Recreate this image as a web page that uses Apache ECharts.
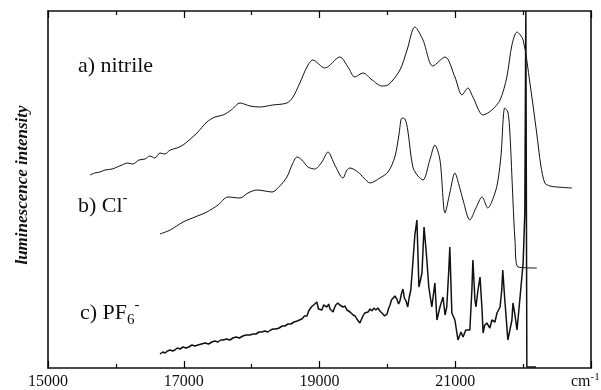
<!DOCTYPE html>
<html>
<head>
<meta charset="utf-8">
<script src="https://cdn.jsdelivr.net/npm/echarts@6/dist/echarts.min.js"></script>
<style>
  html, body { margin: 0; padding: 0; background: #fff; }
  #chart { width: 601px; height: 390px; }
</style>
</head>
<body>
<div id="chart"></div>
<script>
// wavenumber (cm-1) and relative intensity
const nitrileX = [15620, 15690, 15765, 15840, 15945, 16020, 16090, 16170, 16250, 16340, 16430, 16500, 16575, 16650, 16720, 16800, 16900, 16990, 17080, 17195, 17340, 17460, 17580, 17700, 17830, 17975, 18120, 18310, 18520, 18610, 18710, 18815, 18900, 19080, 19300, 19420, 19520, 19640, 19775, 19920, 20010, 20185, 20290, 20405, 20525, 20670, 20850, 20995, 21100, 21185, 21260, 21410, 21540, 21660, 21760, 21835, 21910, 22000, 22100, 22200, 22260, 22320, 22395, 22500, 22720]
const nitrileY = [193, 195, 196, 198, 199, 201, 203, 205, 204, 208, 209, 212, 210, 215, 214, 218, 220, 223, 228, 235, 246, 251, 253, 258, 265, 262, 261, 263, 265, 271, 285, 301, 308, 300, 311, 301, 291, 295, 288, 282, 283, 298, 318, 341, 328, 302, 311, 291, 273, 280, 271, 253, 258, 268, 291, 323, 336, 328, 285, 235, 203, 185, 182, 181, 180]

const chlorideX = [16650, 16800, 16990, 17165, 17340, 17505, 17650, 17830, 17945, 18080, 18195, 18300, 18415, 18520, 18595, 18670, 18740, 18830, 18930, 19035, 19125, 19225, 19345, 19405, 19450, 19565, 19655, 19745, 19890, 20010, 20110, 20170, 20215, 20260, 20300, 20375, 20450, 20525, 20625, 20700, 20775, 20850, 20920, 20995, 21055, 21115, 21215, 21305, 21395, 21480, 21585, 21630, 21675, 21730, 21775, 21805, 21850, 21880, 21925, 22200]
const chlorideY = [134, 138, 146, 151, 156, 163, 171, 170, 175, 178, 177, 176, 182, 191, 203, 211, 208, 201, 199, 206, 216, 203, 190, 198, 200, 196, 190, 185, 190, 196, 211, 233, 250, 249, 238, 201, 192, 188, 208, 223, 208, 155, 175, 195, 183, 168, 148, 160, 171, 160, 175, 188, 213, 260, 256, 235, 168, 128, 101, 100]

const pf6X = [16650, 16690, 16725, 16760, 16800, 16835, 16870, 16905, 16945, 16990, 17035, 17075, 17120, 17165, 17210, 17260, 17315, 17365, 17415, 17460, 17505, 17545, 17580, 17630, 17680, 17725, 17770, 17820, 17870, 17920, 17975, 18020, 18065, 18110, 18150, 18195, 18240, 18280, 18315, 18360, 18405, 18450, 18490, 18535, 18580, 18625, 18670, 18705, 18740, 18780, 18815, 18840, 18860, 18880, 18900, 18930, 18960, 18985, 19005, 19035, 19060, 19080, 19110, 19135, 19155, 19180, 19200, 19220, 19240, 19270, 19300, 19325, 19345, 19375, 19405, 19430, 19450, 19475, 19495, 19525, 19550, 19575, 19595, 19620, 19640, 19665, 19685, 19715, 19745, 19775, 19800, 19830, 19860, 19890, 19920, 19960, 19995, 20020, 20040, 20060, 20080, 20110, 20140, 20165, 20185, 20210, 20230, 20250, 20275, 20300, 20320, 20345, 20375, 20405, 20435, 20465, 20510, 20540, 20570, 20585, 20610, 20655, 20700, 20730, 20775, 20820, 20850, 20875, 20905, 20920, 20950, 20995, 21040, 21085, 21115, 21155, 21215, 21245, 21260, 21290, 21305, 21335, 21365, 21395, 21410, 21435, 21465, 21510, 21540, 21585, 21615, 21660, 21685, 21700, 21730, 21745, 21775, 21805, 21835, 21850, 21880, 21910, 21955, 22000, 22025, 22040, 22055, 22190]
const pf6Y = [14, 16, 15, 17, 18, 17, 18, 20, 19, 21, 20, 21, 23, 22, 23, 24, 25, 24, 26, 27, 26, 28, 28, 29, 28, 30, 31, 30, 32, 33, 33, 34, 34, 36, 36, 37, 36, 38, 39, 39, 40, 42, 42, 44, 44, 46, 47, 48, 49, 52, 52, 57, 55, 61, 59, 64, 66, 59, 61, 58, 63, 65, 61, 64, 59, 60, 56, 60, 63, 65, 63, 64, 61, 62, 58, 59, 56, 56, 53, 52, 49, 47, 45, 49, 52, 55, 57, 56, 59, 57, 60, 58, 60, 57, 55, 52, 54, 60, 63, 68, 66, 72, 69, 64, 67, 75, 79, 70, 67, 61, 70, 78, 105, 133, 148, 81, 95, 141, 118, 105, 81, 61, 85, 48, 61, 71, 53, 61, 98, 121, 55, 48, 28, 36, 31, 38, 38, 78, 108, 68, 61, 78, 91, 58, 35, 43, 45, 40, 48, 46, 55, 61, 78, 98, 68, 55, 28, 38, 48, 65, 53, 38, 71, 105, 155, 357, 1, 1]

const xRange = { min: 15000, max: 23000, step: 2000 }
const serif = '"Liberation Serif", "Times New Roman", serif'

const pairs = (xs, ys) => xs.map((x, i) => [x, ys[i]])

const chart = echarts.init(document.getElementById('chart'), null, { renderer: 'canvas' })

const lineSeries = (name, xs, ys, smooth, width) => ({
  name,
  type: 'line',
  data: pairs(xs, ys),
  showSymbol: false,
  smooth,
  lineStyle: { color: '#111', width },
  silent: true,
  z: 3
})

const frameLine = () => ({ show: true, onZero: false, lineStyle: { color: '#111', width: 1.6 } })

const axisX = (position, showLabels) => ({
  type: 'value',
  position,
  min: xRange.min,
  max: xRange.max,
  interval: xRange.step,
  axisLine: frameLine(),
  axisTick: { show: true, inside: true, length: 7, lineStyle: { color: '#000', width: 1.2 } },
  minorTick: { show: true, splitNumber: 2, length: 4, lineStyle: { color: '#000', width: 1.2 } },
  splitLine: { show: false },
  axisLabel: {
    show: showLabels,
    margin: 6,
    color: '#111',
    fontFamily: serif,
    fontSize: 16,
    formatter: (v) => (v >= xRange.max ? '' : String(v))
  }
})

const axisY = (position) => ({
  type: 'value',
  position,
  min: 0,
  max: 357,
  axisLine: frameLine(),
  axisTick: { show: false },
  axisLabel: { show: false },
  splitLine: { show: false }
})

const option = {
  animation: false,
  backgroundColor: '#fff',
  grid: { left: 48, right: 10, top: 11, bottom: 22, show: false },
  xAxis: [axisX('bottom', true), axisX('top', false)],
  yAxis: [axisY('left'), axisY('right')],
  series: [
    lineSeries('a) nitrile', nitrileX, nitrileY, 0.3, 1),
    lineSeries('b) Cl-', chlorideX, chlorideY, 0.3, 1),
    lineSeries('c) PF6-', pf6X, pf6Y, false, 1.5)
  ],
  graphic: [
    {
      type: 'text', x: 23, y: 185, rotation: Math.PI / 2,
      style: { text: 'luminescence intensity', font: 'italic bold 17px ' + serif, fill: '#111', align: 'center', verticalAlign: 'middle' }
    },
    {
      type: 'text', x: 78, y: 66,
      style: { text: 'a) nitrile', font: '22px ' + serif, fill: '#111', align: 'left', verticalAlign: 'middle' }
    },
    {
      type: 'text', x: 78, y: 191,
      style: {
        text: '{t|b) Cl}{sup|-}',
        fill: '#111', align: 'left', verticalAlign: 'top',
        rich: {
          t: { fontFamily: serif, fontSize: 22, lineHeight: 30 },
          sup: { fontFamily: serif, fontSize: 15, lineHeight: 15, verticalAlign: 'top' }
        }
      }
    },
    {
      type: 'text', x: 80, y: 298,
      style: {
        text: '{t|c) PF}{sub|6}{sup|-}',
        fill: '#111', align: 'left', verticalAlign: 'top',
        rich: {
          t: { fontFamily: serif, fontSize: 22, lineHeight: 30 },
          sub: { fontFamily: serif, fontSize: 15, lineHeight: 15, verticalAlign: 'bottom' },
          sup: { fontFamily: serif, fontSize: 15, lineHeight: 15, verticalAlign: 'top' }
        }
      }
    },
    {
      type: 'text', x: 571, y: 372,
      style: {
        text: '{c|cm}{s|-1}',
        fill: '#111', align: 'left', verticalAlign: 'top',
        rich: {
          c: { fontFamily: serif, fontSize: 16, lineHeight: 20 },
          s: { fontFamily: serif, fontSize: 11, lineHeight: 11, verticalAlign: 'top' }
        }
      }
    }
  ]
}

chart.setOption(option)
</script>
</body>
</html>
